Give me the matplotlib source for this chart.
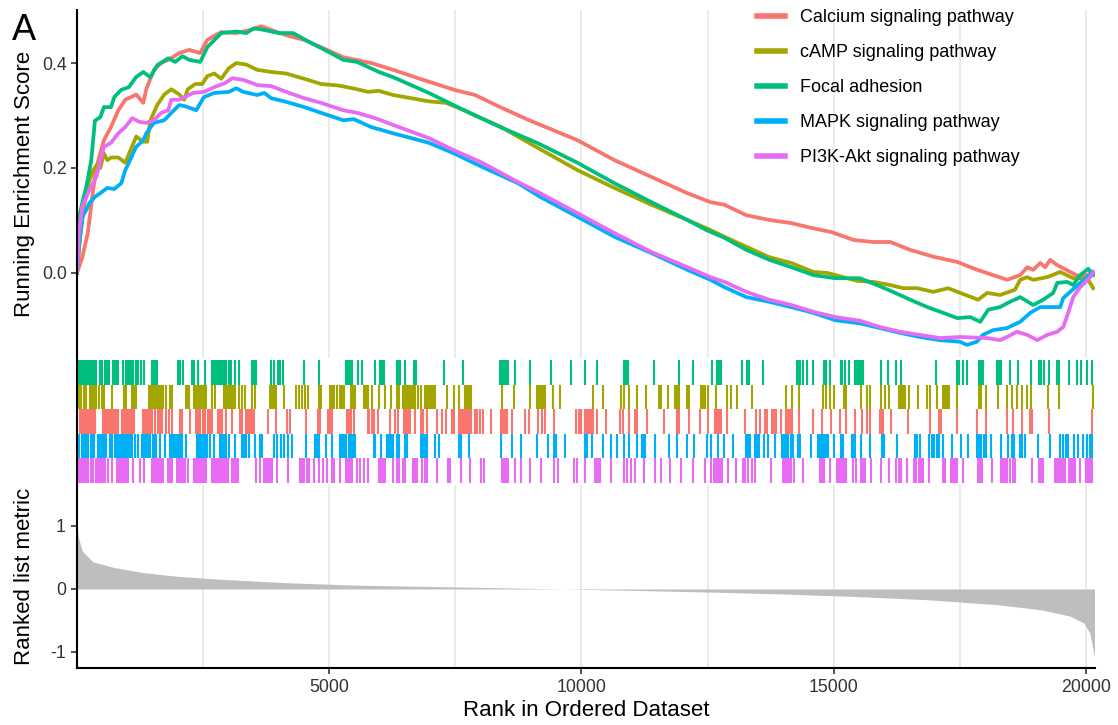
import matplotlib
matplotlib.use("Agg")
import matplotlib.pyplot as plt

plt.rcParams['font.family'] = ['Liberation Sans', 'DejaVu Sans']

# ---- data ------------------------------------------------------------------
pathways = ["Calcium signaling pathway", "cAMP signaling pathway", "Focal adhesion",
            "MAPK signaling pathway", "PI3K-Akt signaling pathway"]
colors = ["#F8766D", "#A3A500", "#00BF7D", "#00B0F6", "#E76BF3"]
n_genes = 20180

calcium_rank = [0, 105, 214, 323, 382, 533, 674, 818, 957, 1175, 1314, 1373, 1524, 1670, 1809,
                2027, 2225, 2443, 2582, 2859, 3157, 3434, 3652, 3850, 4147, 4504, 4841, 5277,
                5832, 6268, 6763, 7476, 7892, 8388, 8962, 9920, 10653, 11386, 12099, 12555,
                12833, 13269, 13724, 14160, 14596, 14953, 15389, 15785, 16122, 16518, 16974,
                17449, 17846, 18440, 18698, 18837, 18955, 19094, 19193, 19292, 19431, 19887, 20145]
calcium_es = [0.0, 0.03, 0.076, 0.16, 0.20, 0.253, 0.278, 0.31, 0.33, 0.34, 0.324, 0.35, 0.387,
              0.40, 0.406, 0.419, 0.425, 0.419, 0.444, 0.459, 0.457, 0.463, 0.47, 0.463, 0.453,
              0.444, 0.43, 0.411, 0.40, 0.387, 0.371, 0.349, 0.339, 0.316, 0.291, 0.253, 0.215,
              0.183, 0.152, 0.135, 0.130, 0.110, 0.101, 0.095, 0.085, 0.078, 0.063, 0.059, 0.059,
              0.044, 0.031, 0.021, 0.006, -0.013, -0.004, 0.011, 0.006, 0.019, 0.011, 0.025,
              0.015, -0.008, 0.0]

camp_rank = [0, 65, 145, 224, 323, 422, 462, 533, 600, 680, 818, 957, 1175, 1314, 1393, 1452,
             1591, 1730, 1869, 2027, 2126, 2195, 2344, 2483, 2582, 2721, 2859, 3010, 3157, 3355,
             3573, 3850, 4147, 4504, 4841, 5198, 5554, 5772, 5982, 6268, 6624, 6973, 7318, 7674,
             7892, 8388, 9102, 9920, 10653, 11386, 12099, 12555, 12833, 13269, 13724, 14160,
             14596, 14873, 15468, 15785, 16122, 16379, 16657, 16974, 17271, 17508, 17865, 18043,
             18296, 18593, 18698, 18837, 18955, 19233, 19490, 19748, 20026, 20145]
camp_es = [0.0, 0.07, 0.13, 0.17, 0.196, 0.21, 0.20, 0.228, 0.215, 0.22, 0.22, 0.21, 0.26, 0.25,
           0.25, 0.29, 0.32, 0.34, 0.35, 0.34, 0.33, 0.35, 0.36, 0.36, 0.375, 0.38, 0.37, 0.39,
           0.40, 0.397, 0.387, 0.383, 0.38, 0.37, 0.36, 0.357, 0.35, 0.345, 0.347, 0.339, 0.333,
           0.327, 0.324, 0.31, 0.30, 0.279, 0.24, 0.196, 0.162, 0.13, 0.101, 0.082, 0.069, 0.05,
           0.03, 0.019, 0.002, 0.0, -0.015, -0.017, -0.023, -0.029, -0.029, -0.036, -0.029,
           -0.038, -0.051, -0.038, -0.042, -0.032, -0.013, -0.008, -0.013, -0.008, 0.002, -0.01,
           -0.01, -0.029]

focal_rank = [0, 38, 184, 283, 355, 462, 533, 674, 739, 878, 1028, 1169, 1314, 1452, 1591, 1809,
              1948, 2087, 2225, 2443, 2582, 2859, 3157, 3355, 3505, 3711, 4001, 4286, 4643, 4991,
              5277, 5554, 5982, 6268, 6973, 7674, 8388, 9118, 9920, 10653, 11386, 12099, 12470,
              12833, 13269, 13724, 14160, 14596, 15032, 15521, 15857, 16174, 16518, 16855, 17172,
              17449, 17707, 17905, 18063, 18296, 18494, 18698, 18955, 19153, 19351, 19431, 19629,
              19748, 19887, 20046, 20145]
focal_es = [0.0, 0.107, 0.164, 0.215, 0.29, 0.297, 0.316, 0.316, 0.335, 0.349, 0.354, 0.373,
            0.383, 0.373, 0.396, 0.409, 0.402, 0.413, 0.406, 0.402, 0.43, 0.457, 0.46, 0.457,
            0.466, 0.463, 0.457, 0.457, 0.438, 0.421, 0.406, 0.402, 0.383, 0.373, 0.343, 0.31,
            0.278, 0.248, 0.21, 0.171, 0.135, 0.101, 0.082, 0.067, 0.044, 0.025, 0.011, -0.004,
            -0.01, -0.01, -0.023, -0.036, -0.051, -0.065, -0.076, -0.086, -0.084, -0.093, -0.070,
            -0.065, -0.055, -0.046, -0.061, -0.051, -0.038, -0.019, -0.017, -0.023, -0.004,
            0.008, -0.004]

mapk_rank = [0, 38, 105, 184, 244, 355, 462, 600, 739, 878, 957, 1028, 1169, 1314, 1373, 1524,
             1730, 1869, 2027, 2166, 2364, 2515, 2721, 3010, 3157, 3295, 3573, 3711, 3850, 4147,
             4504, 4841, 5277, 5487, 5832, 6268, 6624, 6973, 7468, 8031, 8744, 9180, 9920, 10653,
             11386, 12099, 12555, 12833, 13269, 13724, 14160, 14596, 15032, 15521, 15917, 16313,
             16709, 17106, 17502, 17641, 17839, 17958, 18157, 18434, 18698, 18896, 19094, 19490,
             19550, 19688, 19887, 20026, 20125]
mapk_es = [0.0, 0.05, 0.107, 0.12, 0.133, 0.145, 0.152, 0.162, 0.16, 0.171, 0.196, 0.21, 0.24,
           0.253, 0.266, 0.286, 0.291, 0.305, 0.32, 0.317, 0.31, 0.335, 0.343, 0.345, 0.352,
           0.345, 0.339, 0.343, 0.333, 0.326, 0.316, 0.305, 0.291, 0.293, 0.278, 0.266, 0.257,
           0.248, 0.228, 0.202, 0.171, 0.145, 0.107, 0.069, 0.038, 0.006, -0.013, -0.027, -0.046,
           -0.055, -0.065, -0.076, -0.09, -0.096, -0.105, -0.114, -0.122, -0.128, -0.131,
           -0.137, -0.131, -0.118, -0.109, -0.105, -0.093, -0.076, -0.065, -0.065, -0.048,
           -0.036, -0.019, -0.008, 0.002]

pi3k_rank = [0, 38, 105, 244, 382, 533, 674, 818, 957, 1096, 1234, 1373, 1524, 1670, 1809, 1869,
             2027, 2304, 2515, 2721, 2939, 3077, 3295, 3573, 3850, 4147, 4504, 4841, 5277, 5554,
             5911, 6268, 6973, 7468, 8031, 8744, 9180, 9920, 10653, 11386, 12099, 12555, 12833,
             13269, 13724, 14160, 14596, 15032, 15521, 15917, 16313, 16709, 17106, 17502, 18043,
             18296, 18434, 18632, 18837, 19035, 19233, 19431, 19550, 19649, 19748, 19887, 20086,
             20145]
pi3k_es = [0.0, 0.076, 0.126, 0.158, 0.183, 0.24, 0.248, 0.266, 0.278, 0.295, 0.288, 0.286,
           0.291, 0.305, 0.31, 0.33, 0.33, 0.343, 0.345, 0.354, 0.362, 0.371, 0.368, 0.358,
           0.356, 0.345, 0.333, 0.324, 0.31, 0.305, 0.295, 0.282, 0.257, 0.234, 0.21, 0.173,
           0.152, 0.114, 0.076, 0.04, 0.011, -0.008, -0.017, -0.036, -0.051, -0.061, -0.074,
           -0.084, -0.091, -0.103, -0.112, -0.118, -0.124, -0.122, -0.124, -0.128, -0.122,
           -0.112, -0.118, -0.128, -0.118, -0.112, -0.103, -0.076, -0.046, -0.027, -0.008, 0.002]

# gene hit positions (rank in ordered list)
focal_hits = [5, 26, 65, 105, 145, 184, 224, 263, 303, 343, 382, 462, 501, 554, 594, 633, 712, 752,
              791, 818, 910, 963, 1016, 1049, 1082, 1108, 1161, 1214, 1267, 1319, 1478, 1517,
              1557, 1583, 2006, 2032, 2098, 2283, 2323, 2402, 2547, 2679, 2719, 2758, 2798, 2837,
              2877, 2917, 2956, 3009, 3062, 3141, 3207, 3471, 3511, 3550, 3854, 3907, 3986, 4026,
              4078, 4501, 4805, 5323, 5350, 5389, 5429, 5455, 5561, 5640, 5917, 6010, 6049, 6089,
              6340, 6379, 6406, 6511, 6683, 6722, 7277, 7646, 8386, 8425, 8465, 8504, 8544, 8676,
              8980, 9389, 9798, 10078, 10303, 10844, 10884, 10923, 11438, 11940, 12204, 12586,
              12692, 12732, 12771, 13180, 13286, 13326, 13590, 14263, 14302, 14342, 14382, 14474,
              14593, 14817, 14857, 14936, 15151, 15174, 15231, 15310, 15415, 15455, 15495, 15534,
              15574, 15930, 16076, 16234, 16340, 17026, 17436, 17475, 17567, 17646, 17884, 17923,
              17963, 18240, 18280, 18320, 18504, 18652, 18916, 19061, 19101, 19167, 19260, 19418,
              19458, 19656, 19815, 19907, 20013, 20118]
camp_hits = [10, 39, 79, 131, 171, 250, 283, 316, 349, 382, 435, 501, 541, 686, 924, 963, 1082,
             1121, 1161, 1425, 1465, 1504, 1544, 1583, 1623, 1663, 1702, 1755, 1834, 1874, 2151,
             2191, 2230, 2323, 2362, 2402, 2442, 2481, 2521, 2560, 2679, 2732, 2917, 2956, 2996,
             3035, 3075, 3115, 3141, 3220, 3273, 3339, 3471, 3537, 3817, 3870, 3907, 3949, 4108,
             4345, 4398, 4461, 4517, 4570, 4805, 4845, 5006, 5046, 5099, 5152, 5204, 5257, 5297,
             5429, 5468, 5508, 5693, 5732, 5772, 5851, 5983, 6102, 6221, 6353, 6392, 6458, 6498,
             6538, 6577, 6617, 6656, 6696, 6762, 6815, 6907, 6947, 6986, 7026, 7066, 7105, 7330,
             7475, 7580, 7699, 7739, 7778, 7818, 8425, 8663, 8980, 9125, 9164, 9204, 9244, 9283,
             9442, 9574, 10224, 10422, 10791, 10844, 10950, 11108, 11280, 11530, 11570, 11715,
             11847, 11887, 11926, 12085, 12138, 12375, 12415, 12454, 12507, 12666, 12890, 12956,
             13088, 13378, 14052, 14171, 14316, 14791, 14844, 14936, 15002, 15204, 15244, 15548,
             15667, 15719, 15944, 16023, 16089, 16300, 16340, 16380, 16419, 16485, 16670, 16855,
             16908, 17054, 17159, 17199, 17238, 17278, 17450, 17873, 17925, 18018, 18256, 18441,
             18533, 18626, 18731, 18837, 18903, 19246, 19458, 20150]
calcium_hits = [52, 92, 131, 171, 211, 250, 290, 330, 356, 515, 554, 594, 633, 673, 712, 752, 791,
                818, 884, 924, 963, 1016, 1056, 1095, 1135, 1307, 1347, 1386, 1426, 1465, 1492,
                1544, 1597, 1637, 1690, 1756, 1822, 1875, 2047, 2086, 2232, 2364, 2404, 2443,
                2496, 2536, 2589, 2628, 2668, 2787, 2826, 2866, 2958, 3077, 3222, 3275, 3354,
                3394, 3434, 3473, 3506, 3788, 3947, 4160, 4213, 4530, 4778, 4824, 4976, 5006,
                5046, 5350, 5389, 5429, 5495, 5759, 5798, 5838, 5878, 5970, 6208, 6313, 6366,
                6485, 6524, 6564, 6604, 6709, 6815, 6868, 6934, 7146, 7237, 7316, 7435, 7475,
                7567, 7607, 7660, 7699, 7739, 7778, 7818, 7884, 7937, 7990, 8056, 8214, 8412,
                8452, 8491, 8531, 8623, 8887, 8954, 9138, 9217, 9283, 9455, 9890, 9943, 9996,
                10075, 10118, 10158, 10197, 10237, 10316, 10488, 10765, 10831, 10936, 11055,
                11095, 11293, 11636, 11887, 11940, 12124, 12349, 12507, 12652, 12692, 12732,
                12758, 12890, 13246, 13458, 13537, 13642, 13682, 13774, 13814, 13854, 13959,
                14052, 14092, 14131, 14171, 14316, 14580, 14778, 14949, 15134, 15244, 15429,
                15561, 15667, 15719, 15917, 15957, 15983, 16128, 16471, 16907, 17079, 17132,
                17450, 17833, 18029, 18438, 18557, 18742, 18887, 18927, 19270, 20115]
mapk_hits = [5, 39, 105, 145, 184, 211, 277, 316, 343, 422, 462, 501, 541, 567, 660, 699, 752, 791,
             818, 858, 897, 937, 977, 1016, 1056, 1095, 1148, 1201, 1280, 1320, 1360, 1399, 1439,
             1505, 1545, 1571, 1651, 1743, 1849, 1889, 1928, 1968, 2007, 2047, 2086, 2166, 2377,
             2417, 2456, 2496, 2536, 2575, 2628, 2708, 2826, 2866, 2905, 2945, 3011, 3130, 3262,
             3302, 3341, 3408, 3526, 3619, 3672, 3910, 3962, 4042, 4108, 4174, 4267, 4544, 4715,
             4755, 4795, 4940, 5059, 5218, 5257, 5297, 5337, 5389, 5429, 5468, 5508, 5878, 5917,
             6036, 6155, 6194, 6234, 6274, 6353, 6392, 6511, 6551, 6815, 6854, 6894, 6934, 7092,
             7184, 7580, 7620, 7765, 8412, 8623, 8795, 9125, 9336, 9455, 9494, 9666, 10078,
             10118, 10210, 10422, 10580, 10712, 10844, 10936, 11095, 11201, 11240, 11267, 11452,
             11742, 11887, 12085, 12230, 12481, 12560, 12705, 12824, 12996, 13260, 13299, 13339,
             13445, 13484, 13524, 13616, 13695, 13827, 13972, 14012, 14052, 14092, 14144, 14184,
             14290, 14342, 14553, 14698, 14738, 14778, 14817, 14857, 14896, 15002, 15151, 15187,
             15363, 15402, 15429, 15548, 15719, 15957, 15997, 16248, 16604, 16657, 16710, 16895,
             16947, 16987, 17040, 17092, 17171, 17343, 17527, 17672, 17831, 17884, 17923, 17976,
             18016, 18109, 18320, 18452, 18531, 18570, 18689, 18742, 18795, 19058, 19283, 19494,
             19547, 19600, 19652, 19758, 19851, 19943, 20022, 20075, 20115]
pi3k_hits = [5, 26, 65, 105, 145, 184, 224, 277, 316, 369, 409, 448, 488, 528, 554, 620, 699, 792,
             831, 871, 911, 950, 990, 1016, 1109, 1254, 1320, 1478, 1517, 1557, 1597, 1636, 1676,
             1703, 1795, 1835, 1874, 1981, 2020, 2060, 2100, 2139, 2205, 2311, 2350, 2390, 2430,
             2469, 2509, 2549, 2679, 2719, 2758, 2798, 2837, 2877, 2917, 2956, 2996, 3075, 3115,
             3154, 3194, 3540, 3619, 3698, 3738, 3777, 3817, 3870, 3962, 4187, 4425, 4464, 4504,
             4557, 4597, 4689, 4795, 4874, 4953, 5046, 5086, 5218, 5323, 5363, 5402, 5442, 5548,
             5614, 5680, 5759, 5983, 6023, 6062, 6102, 6274, 6340, 6379, 6458, 6511, 6656, 6696,
             6736, 6841, 6894, 6934, 7132, 7356, 7396, 7620, 7792, 8016, 8069, 8425, 8465, 8504,
             8544, 8689, 8795, 8980, 9204, 9455, 9534, 9851, 9917, 10065, 10263, 10303, 10342,
             10369, 10580, 10844, 10897, 10990, 11069, 11241, 11452, 11584, 11755, 11980, 12218,
             12443, 12560, 12626, 12666, 12705, 12745, 12784, 12904, 13062, 13194, 13246, 13299,
             13378, 13431, 13762, 13999, 14039, 14078, 14118, 14158, 14223, 14382, 14738, 14778,
             14817, 14936, 15068, 15108, 15138, 15148, 15178, 15187, 15217, 15244, 15376, 15442,
             15534, 15574, 15614, 15733, 15944, 16089, 16234, 16287, 16340, 16446, 16591, 16631,
             16684, 16736, 16776, 16895, 17159, 17212, 17318, 17358, 17397, 17437, 17569, 17859,
             17899, 17939, 18137, 18309, 18348, 18388, 18428, 18494, 18546, 18599, 18929, 19075,
             19115, 19154, 19379, 19418, 19458, 19498, 19551, 19590, 19669, 19709, 19749, 19788,
             19881, 20000, 20039, 20079, 20118]

# ranked list metric
metric_rank = [1, 34, 105, 317, 739, 1314, 2007, 2721, 4127, 5554, 6963, 8370, 9637, 11202,
               12609, 14016, 15442, 16849, 18256, 19108, 19682, 19959, 20078, 20125, 20170]
metric_val = [0.98, 0.8, 0.6, 0.43, 0.34, 0.26, 0.20, 0.16, 0.10, 0.06, 0.04, 0.02, 0.0,
              -0.025, -0.05, -0.08, -0.12, -0.17, -0.25, -0.33, -0.43, -0.54, -0.7, -0.9, -1.08]

es_curves = [(calcium_rank, calcium_es), (camp_rank, camp_es), (focal_rank, focal_es),
             (mapk_rank, mapk_es), (pi3k_rank, pi3k_es)]
# rows of the hit panel from top to bottom: (hits, color index)
hit_rows = [(focal_hits, 2), (camp_hits, 1), (calcium_hits, 0), (mapk_hits, 3), (pi3k_hits, 4)]

major_x = [5000, 10000, 15000, 20000]
minor_x = [2500, 7500, 12500, 17500]

# ---- layout -----------------------------------------------------------------
W, H = 1118, 725
fig = plt.figure(figsize=(W / 100, H / 100), dpi=100)


def px_axes(left, top, right, bottom):
    return fig.add_axes([left / W, 1 - bottom / H, (right - left) / W, (bottom - top) / H])


ax_es = px_axes(77, 10, 1095, 358)
ax_hit = px_axes(77, 358, 1095, 485)
ax_rank = px_axes(77, 485, 1095, 668)

grid_kw = dict(color="#ebebeb", lw=1.4)
tick_color = "#333333"

for ax in (ax_es, ax_hit, ax_rank):
    ax.set_xlim(0, n_genes)
    for s in ("top", "right"):
        ax.spines[s].set_visible(False)
    ax.spines["left"].set_linewidth(1.5)
    ax.spines["bottom"].set_linewidth(1.5)
    ax.set_axisbelow(True)

# 1. running enrichment score
for (r, e), name, c in zip(es_curves, pathways, colors):
    ax_es.plot(r, e, color=c, lw=2.7, label=name, solid_joinstyle="round")
ax_es.set_ylim(-0.162, 0.501)
ax_es.set_yticks([0.0, 0.2, 0.4])
ax_es.set_yticklabels(["0.0", "0.2", "0.4"])
ax_es.set_xticks(major_x)
ax_es.set_xticks(minor_x, minor=True)
ax_es.tick_params(axis="x", which="both", length=0, labelbottom=False)
ax_es.tick_params(axis="y", length=4, width=1.2, labelsize=12.8, colors=tick_color, pad=3)
ax_es.spines["bottom"].set_visible(False)
ax_es.grid(axis="x", which="both", **grid_kw)
ax_es.set_ylabel("Running Enrichment Score", fontsize=16)
ax_es.yaxis.set_label_coords(-42 / 1018, 0.5)
leg = ax_es.legend(loc="upper left", bbox_to_anchor=(757 / W, 1 - 9 / H),
                   bbox_transform=fig.transFigure, frameon=False, fontsize=13,
                   handlelength=1.55, handletextpad=0.85, labelspacing=1.0,
                   borderpad=0, borderaxespad=0)
for h in leg.get_lines():
    h.set_linewidth(4)

# 2. gene hits
for row, (hits, ci) in enumerate(hit_rows):
    ax_hit.vlines(hits, 4 - row, 5 - row, color=colors[ci], lw=1.5)
ax_hit.set_ylim(-0.08, 5.08)
ax_hit.set_xticks([])
ax_hit.set_yticks([])
ax_hit.spines["bottom"].set_visible(False)

# 3. ranked list metric
ax_rank.fill_between(metric_rank, metric_val, 0, color="#bebebe", lw=0)
ax_rank.set_ylim(-1.254, 1.65)
ax_rank.set_yticks([-1, 0, 1])
ax_rank.set_yticklabels(["-1", "0", "1"])
ax_rank.set_xticks(major_x)
ax_rank.set_xticks(minor_x, minor=True)
ax_rank.tick_params(axis="x", which="minor", length=0)
ax_rank.tick_params(axis="both", which="major", length=4, width=1.2, labelsize=12.8,
                    colors=tick_color, pad=4)
ax_rank.grid(axis="x", which="both", **grid_kw)
ax_rank.set_ylabel("Ranked list metric", fontsize=16)
ax_rank.yaxis.set_label_coords(-42 / 1018, 0.5)
ax_rank.set_xlabel("Rank in Ordered Dataset", fontsize=16, labelpad=3)

fig.text(12 / W, 1 - 31 / H, "A", fontsize=26, va="center", ha="left")

fig.savefig("out.png", dpi=100, facecolor="white")
